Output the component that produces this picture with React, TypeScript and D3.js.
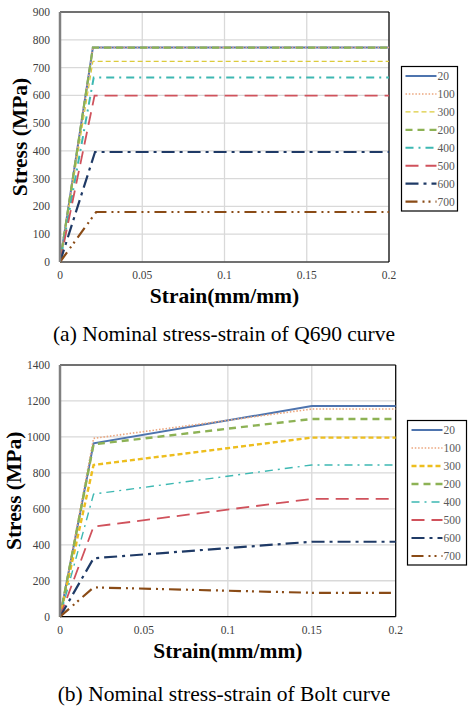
import React from "react";
import * as d3 from "d3";

const temps = ["20", "100", "300", "200", "400", "500", "600", "700"];
const colorsTop = ["#4E74AE", "#EBA67E", "#DCCB3C", "#8DB255", "#3DB8B2", "#D0525C", "#1F3A66", "#8A4B16"];
const colorsBot = ["#4E74AE", "#EBA67E", "#EDBE1E", "#8DB255", "#3DB8B2", "#D0525C", "#1F3A66", "#8A4B16"];
const dashes = ["", "1.5,1.8", "5,3", "7,5", "8,5,2,5", "13,7", "13,5,3,5", "12,5,2,4,2,5"];
const widthsTop = [2, 1.6, 1.2, 2.2, 2, 1.8, 2.2, 2.2];
const widthsBot = [2, 1.6, 2.4, 2.4, 1.4, 1.8, 2.2, 2.2];

// Q690 (a)
const q690YieldStrain = [0.02, 0.02, 0.02, 0.02, 0.0205, 0.021, 0.0213, 0.022];
const q690Stress = [772, 772, 722, 772, 664, 599, 396, 180];
const q690EndStrain = 0.2;

// Bolt (b)
const boltYieldStrain = 0.02;
const boltUltStrain = 0.15;
const boltEndStrain = 0.2;
const boltYield = [964, 992, 844, 959, 682, 501, 325, 163];
const boltUlt = [1172, 1155, 996, 1100, 844, 655, 417, 133];

const xTicks = [0, 0.05, 0.1, 0.15, 0.2];
const yTicksTop = [0, 100, 200, 300, 400, 500, 600, 700, 800, 900];
const yTicksBot = [0, 200, 400, 600, 800, 1000, 1200, 1400];

type Pt = [number, number];

const serif = "Liberation Serif";

function Panel(props: {
  box: { l: number; r: number; t: number; b: number };
  yMax: number;
  yTicks: number[];
  series: Pt[][];
  colors: string[];
  widths: number[];
  legend: { x: number; y: number; w: number; h: number; y0: number; step: number };
  yTitleX: number;
  xTitleY: number;
  caption: string;
  captionY: number;
}) {
  const { box, yMax, yTicks, series, colors, widths, legend } = props;
  const x = d3.scaleLinear().domain([0, 0.2]).range([box.l, box.r]);
  const y = d3.scaleLinear().domain([0, yMax]).range([box.b, box.t]);
  const line = d3
    .line<Pt>()
    .x((d) => x(d[0]))
    .y((d) => y(d[1]));
  const fmt = (v: number) => (v === 0 ? "0" : String(v));
  return (
    <g>
      {yTicks.map((t) => (
        <line key={"gy" + t} x1={box.l} x2={box.r} y1={y(t)} y2={y(t)} stroke="#D9D9D9" strokeWidth={1.3} />
      ))}
      {xTicks.map((t) => (
        <line key={"gx" + t} x1={x(t)} x2={x(t)} y1={box.t} y2={box.b} stroke="#D9D9D9" strokeWidth={1.3} />
      ))}
      <line x1={box.l} x2={box.r} y1={box.t} y2={box.t} stroke="#000" strokeWidth={1.2} />
      <line x1={box.r} x2={box.r} y1={box.t} y2={box.b} stroke="#000" strokeWidth={1.2} />
      <line x1={box.l} x2={box.r} y1={box.b} y2={box.b} stroke="#000" strokeWidth={1.2} />
      {series.map((s, i) => (
        <path
          key={"s" + i}
          d={line(s) || ""}
          fill="none"
          stroke={colors[i]}
          strokeWidth={widths[i]}
          strokeDasharray={dashes[i]}
        />
      ))}
      <line x1={box.l} x2={box.l} y1={box.t} y2={box.b} stroke="#808080" strokeWidth={2.5} />
      {yTicks.map((t) => (
        <text key={"ty" + t} x={box.l - 10} y={y(t) + 4} textAnchor="end" fontFamily={serif} fontSize={11.5} fill="#404040">
          {fmt(t)}
        </text>
      ))}
      {xTicks.map((t) => (
        <text key={"tx" + t} x={x(t)} y={box.b + 17} textAnchor="middle" fontFamily={serif} fontSize={11.5} fill="#404040">
          {fmt(t)}
        </text>
      ))}
      <text
        transform={`translate(${props.yTitleX},${(box.t + box.b) / 2}) rotate(-90)`}
        textAnchor="middle"
        fontFamily={serif}
        fontWeight="bold"
        fontSize={21.5}
        fill="#000"
      >
        Stress (MPa)
      </text>
      <text x={(box.l + box.r) / 2} y={props.xTitleY} textAnchor="middle" fontFamily={serif} fontWeight="bold" fontSize={21.5} fill="#000">
        Strain(mm/mm)
      </text>
      <rect x={legend.x} y={legend.y} width={legend.w} height={legend.h} fill="#fff" stroke="#000" strokeWidth={1.2} />
      {temps.map((t, i) => {
        const ly = legend.y0 + i * legend.step;
        return (
          <g key={"l" + t}>
            <line
              x1={legend.x + 4}
              x2={legend.x + 35}
              y1={ly}
              y2={ly}
              stroke={colors[i]}
              strokeWidth={widths[i]}
              strokeDasharray={dashes[i]}
            />
            <text x={legend.x + 36} y={ly + 4} fontFamily={serif} fontSize={11.5} fill="#595959">
              {t}
            </text>
          </g>
        );
      })}
      <text x={224} y={props.captionY} textAnchor="middle" fontFamily={serif} fontSize={21.5} fill="#000">
        {props.caption}
      </text>
    </g>
  );
}

export default function App() {
  const topSeries: Pt[][] = temps.map((_, i) => [
    [0, 0],
    [q690YieldStrain[i], q690Stress[i]],
    [q690EndStrain, q690Stress[i]],
  ]);
  const botSeries: Pt[][] = temps.map((_, i) => [
    [0, 0],
    [boltYieldStrain, boltYield[i]],
    [boltUltStrain, boltUlt[i]],
    [boltEndStrain, boltUlt[i]],
  ]);
  return (
    <svg width={471} height={711} style={{ position: "absolute", left: 0, top: 0, background: "#fff" }}>
      <rect x={0} y={0} width={471} height={711} fill="#fff" />
      <Panel
        box={{ l: 60, r: 389, t: 12, b: 262 }}
        yMax={900}
        yTicks={yTicksTop}
        series={topSeries}
        colors={colorsTop}
        widths={widthsTop}
        legend={{ x: 401.5, y: 66.5, w: 56, h: 144.5, y0: 76, step: 17.95 }}
        yTitleX={27}
        xTitleY={303}
        caption="(a) Nominal stress-strain of Q690 curve"
        captionY={341}
      />
      <Panel
        box={{ l: 60, r: 395.7, t: 365, b: 616.7 }}
        yMax={1400}
        yTicks={yTicksBot}
        series={botSeries}
        colors={colorsBot}
        widths={widthsBot}
        legend={{ x: 407.5, y: 420.5, w: 59, h: 144.5, y0: 430, step: 18 }}
        yTitleX={21}
        xTitleY={658}
        caption="(b) Nominal stress-strain of Bolt curve"
        captionY={701}
      />
    </svg>
  );
}
